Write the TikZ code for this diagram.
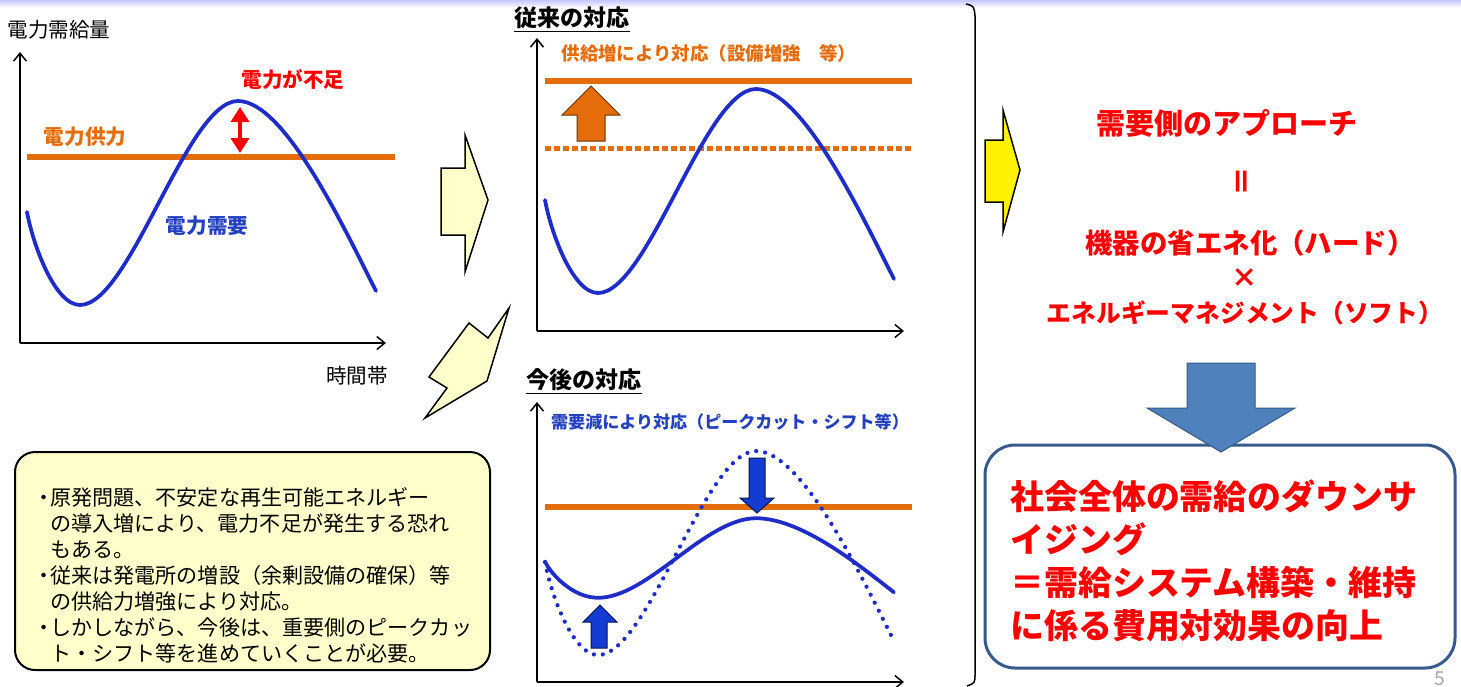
\documentclass[tikz,border=0pt]{standalone}
\usepackage{fontspec}
\setmainfont{Noto Sans CJK JP}
\usetikzlibrary{arrows.meta}
\definecolor{supplyorange}{RGB}{228,108,10}
\definecolor{demandblue}{RGB}{30,45,200}
\definecolor{labelblue}{RGB}{35,65,190}
\definecolor{alertred}{RGB}{255,0,0}
\definecolor{paleyellow}{RGB}{255,255,204}
\definecolor{boxblue}{RGB}{55,90,140}
\definecolor{bigblue}{RGB}{79,129,189}
\definecolor{cutblue}{RGB}{20,60,210}
% demand curve (left chart coordinates, in px)
\newcommand{\demandpath}{(27,212) .. controls (33,245) and (55,305) .. (80,305)
  .. controls (130,305) and (187,101) .. (238,101)
  .. controls (285,101) and (345,230) .. (376,291)}
\tikzset{
  ax/.style={line width=0.3mm, -{Straight Barb[length=1.6mm,width=2.6mm]}},
  sup/.style={draw=supplyorange, line width=1.1mm},
  supD/.style={draw=supplyorange, line width=1mm, dash pattern=on 1.1mm off 0.7mm},
  dem/.style={draw=demandblue, line width=0.75mm, line cap=round},
  demD/.style={draw=demandblue, line width=0.85mm, line cap=round,
               dash pattern=on 0mm off 1.8mm},
  lbl/.style={inner sep=0pt, font=\fontsize{11.7}{14}\selectfont},
  hd/.style={inner sep=0pt, font=\fontsize{13.1}{16}\selectfont\bfseries},
  blkO/.style={fill=supplyorange, draw=supplyorange!45!black, line width=0.2mm},
  blkB/.style={fill=cutblue, draw=cutblue!35!black, line width=0.2mm},
  blkP/.style={fill=paleyellow, draw=black, line width=0.3mm, line join=miter},
  redtx/.style={inner sep=0pt, text=alertred},
}
\begin{document}
\begin{tikzpicture}[x=0.2mm, y=-0.2mm]
  \useasboundingbox (0,0) rectangle (1461,686);
  % ── top band ──────────────────────────────────────────
  \shade[top color=blue!22, bottom color=white] (0,0) rectangle (1461,8);

  % ── left chart: demand vs supply ──────────────────────
  \coordinate (o1) at (20,343);
  \coordinate (y1) at (20,52);
  \coordinate (x1) at (386,343);
  \draw[ax] (o1) -- (y1);
  \draw[ax] (o1) -- (x1);
  \node[lbl] (qty) at (59,30) {電力需給量};
  \node[lbl] (time) at (357,376) {時間帯};
  \draw[sup] (27,157) -- (395,157);
  \draw[dem] \demandpath;
  \node[lbl, font=\fontsize{11.7}{14}\selectfont\bfseries, text=supplyorange]
    (suplbl) at (85,137) {電力供力};
  \node[lbl, font=\fontsize{11.7}{14}\selectfont\bfseries, text=labelblue]
    (demlbl) at (207,226) {電力需要};
  \node[lbl, font=\fontsize{11.7}{14}\selectfont\bfseries, text=alertred]
    (short) at (293,80) {電力が不足};
  \coordinate (pk) at (240,107);
  \coordinate (gp) at (240,153);
  \draw[{Triangle[length=3mm,width=3.6mm]}-{Triangle[length=3mm,width=3.6mm]},
        alertred, line width=0.8mm] (pk) -- (gp);

  % ── transition arrows ─────────────────────────────────
  \draw[blkP] (441,168) -- (465,168) -- (465,135) -- (488,200) -- (465,272)
    -- (465,235) -- (441,235) -- cycle;
  \draw[blkP] (509,308) -- (488,338) -- (469,323) -- (429,377) -- (447,388)
    -- (425,418) -- (487,381) -- cycle;

  % ── conventional response (top middle) ────────────────
  \node[hd] (conv) at (572,18) {従来の対応};
  \draw[line width=0.35mm] ([yshift=-1.2pt]conv.south west) -- ([yshift=-1.2pt]conv.south east);
  \coordinate (o2) at (537,331);
  \coordinate (y2) at (537,38);
  \coordinate (x2) at (904,331);
  \draw[ax] (o2) -- (y2);
  \draw[ax] (o2) -- (x2);
  \node[lbl, font=\fontsize{10.5}{13}\selectfont\bfseries, text=supplyorange]
    (convtx) at (709,53) {供給増により対応（設備増強　等）};
  \draw[sup] (545,81) -- (912,81);
  \draw[supD] (545,148) -- (912,148);
  \begin{scope}[shift={(518,-12)}]
    \draw[dem] \demandpath;
  \end{scope}
  \draw[blkO] (577,141) -- (577,115) -- (562,115) -- (591,86) -- (620,115)
    -- (605,115) -- (605,141) -- cycle;

  % ── future response (bottom middle) ───────────────────
  \node[hd] (fut) at (584,380) {今後の対応};
  \draw[line width=0.35mm] ([yshift=-1.2pt]fut.south west) -- ([yshift=-1.2pt]fut.south east);
  \coordinate (o3) at (537,682);
  \coordinate (y3) at (537,402);
  \coordinate (x3) at (904,682);
  \draw[ax] (o3) -- (y3);
  \draw[ax] (o3) -- (x3);
  \node[lbl, font=\fontsize{9.7}{12}\selectfont\bfseries, text=labelblue]
    (futtx) at (730,422) {需要減により対応（ピークカット・シフト等）};
  \draw[sup] (545,507) -- (912,507);
  \begin{scope}[shift={(518,350)}]
    \draw[demD] \demandpath;
    \begin{scope}[shift={(0,208)}, yscale=0.39, shift={(0,-203)}]
      \draw[dem] \demandpath;
    \end{scope}
  \end{scope}
  \draw[blkB] (749,458) -- (765,458) -- (765,498) -- (774,498) -- (757,513)
    -- (740,498) -- (749,498) -- cycle;
  \draw[blkB] (591,648) -- (591,622) -- (583,622) -- (600,605) -- (617,622)
    -- (607,622) -- (607,648) -- cycle;

  % ── note box ──────────────────────────────────────────
  \draw[fill=paleyellow, draw=black, line width=0.4mm, rounded corners=4mm]
    (15,452) rectangle (490,670);
  \node[inner sep=0pt, anchor=west, align=left,
        font=\fontsize{12}{14.8}\selectfont] (note) at (50,575)
    {\llap{・\kern-.18em}原発問題、不安定な再生可能エネルギー\\
     の導入増により、電力不足が発生する恐れ\\
     もある。\\
     \llap{・\kern-.18em}従来は発電所の増設（余剰設備の確保）等\\
     の供給力増強により対応。\\
     \llap{・\kern-.18em}しかしながら、今後は、重要側のピークカッ\\
     ト・シフト等を進めていくことが必要。};

  % ── divider ───────────────────────────────────────────
  \draw[line width=0.3mm] (966,4) .. controls (974,6) .. (975,16) -- (975,674)
    .. controls (975,683) .. (967,686);

  % ── demand-side approach (right) ──────────────────────
  \draw[fill=yellow, draw=black, line width=0.3mm] (985,140) -- (1003,140)
    -- (1003,110) -- (1020,170) -- (1003,232) -- (1003,202) -- (985,202) -- cycle;
  \node[redtx, font=\fontsize{16.5}{19}\selectfont\bfseries] (appr) at (1227,123)
    {需要側のアプローチ};
  \node[redtx, rotate=90, font=\fontsize{17}{20}\selectfont\bfseries] (eqs) at (1245,182) {＝};
  \node[redtx, font=\fontsize{15.6}{18}\selectfont\bfseries] (hard) at (1250,243)
    {機器の省エネ化（ハード）};
  \node[redtx, font=\fontsize{15}{18}\selectfont\bfseries] (times) at (1245,278) {×};
  \node[redtx, font=\fontsize{14.1}{17}\selectfont\bfseries] (soft) at (1245,313)
    {エネルギーマネジメント（ソフト）};
  \draw[fill=white, draw=boxblue, line width=0.6mm, rounded corners=6mm]
    (985,445) rectangle (1455,668);
  \draw[fill=bigblue, draw=bigblue!70!black, line width=0.2mm] (1187,363) -- (1255,363)
    -- (1255,408) -- (1295,408) -- (1221,452) -- (1147,408) -- (1187,408) -- cycle;
  \node[redtx, anchor=west, align=left, font=\fontsize{19.3}{24.5}\selectfont\bfseries]
    (result) at (1010,561)
    {社会全体の需給のダウンサ\\イジング\\＝需給システム構築・維持\\に係る費用対効果の向上};
  \node[inner sep=0pt, anchor=north, text=gray!70, font=\fontsize{11}{13}\selectfont]
    (pgno) at (1440,671) {5};
\end{tikzpicture}
\end{document}
